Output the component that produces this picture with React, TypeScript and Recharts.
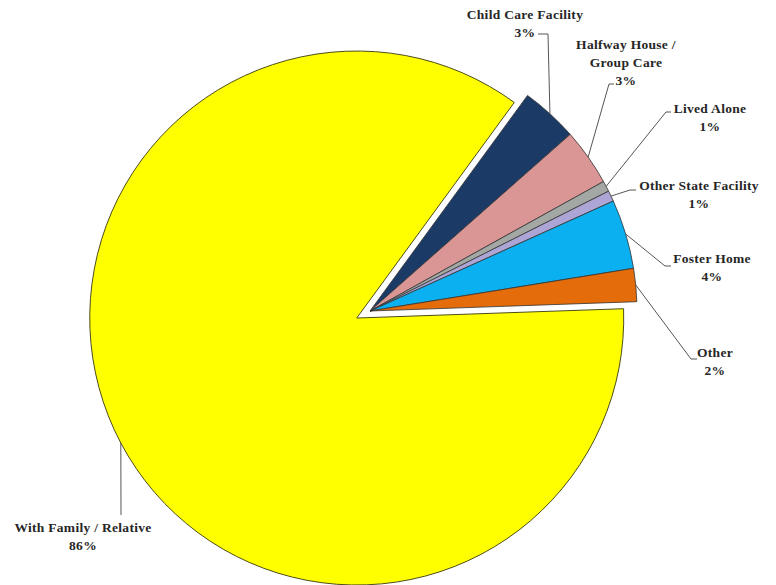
import { Cell, Pie, PieChart } from 'recharts'

const categories = [
  'With Family / Relative',
  'Child Care Facility',
  'Halfway House / Group Care',
  'Lived Alone',
  'Other State Facility',
  'Foster Home',
  'Other'
]
const shares = [85.6, 3.45, 3.45, 0.65, 0.65, 4.2, 2.0]
const labelText = [
  ['With Family / Relative'],
  ['Child Care Facility'],
  ['Halfway House /', 'Group Care'],
  ['Lived Alone'],
  ['Other State  Facility'],
  ['Foster Home'],
  ['Other']
]

const colors = ['#FFFF00', '#1B3A66', '#DA9694', '#A3A8A4', '#ADA5D6', '#0AB0F0', '#E46C0A']

const data = categories.map((name, i) => ({ name, value: shares[i] }))

// hand placed labels, like the dragged labels of the original
const labelLayout: Record<string, { x: number; y: number; path: number[][] }> = {
  'With Family / Relative': { x: 83, y: 532, path: [[121, 515]] },
  'Child Care Facility': { x: 525, y: 19, path: [[548, 34], [538, 34]] },
  'Halfway House / Group Care': { x: 626, y: 49, path: [[609, 84], [614, 84]] },
  'Lived Alone': { x: 710, y: 113, path: [[666, 112], [671, 112]] },
  'Other State Facility': { x: 699, y: 190, path: [[630, 190], [636, 190]] },
  'Foster Home': { x: 712, y: 263, path: [[665, 266], [671, 266]] },
  Other: { x: 715, y: 357, path: [[691, 359], [697, 359]] }
}

const RAD = Math.PI / 180
const START = 2
const CX = 370
const CY = 311
const R = 267
const EXPLODE = 15

const familyMid = START - (shares[0] / 100) * 360 / 2
const famCx = CX + EXPLODE * Math.cos(familyMid * RAD)
const famCy = CY - EXPLODE * Math.sin(familyMid * RAD)

const SERIF = "'Liberation Serif', 'Times New Roman', serif"

const renderLabel = (own: (i: number) => boolean) => (props: any) => {
  const { cx, cy, midAngle, outerRadius, index } = props
  if (!own(index)) return null
  const name = categories[index]
  const lay = labelLayout[name]
  const ax = cx + outerRadius * Math.cos(-midAngle * RAD)
  const ay = cy + outerRadius * Math.sin(-midAngle * RAD)
  const pts = [[ax, ay], ...lay.path].map((p) => p.join(',')).join(' ')
  const lines = [...labelText[index], `${Math.round(shares[index])}%`]
  return (
    <g key={`lbl-${index}`}>
      <polyline points={pts} fill="none" stroke="#555" strokeWidth={1} />
      <text
        x={lay.x}
        y={lay.y}
        textAnchor="middle"
        fontWeight={700}
        fontSize={13.5}
        letterSpacing={0.3}
        fill="#262626"
        style={{ fontFamily: SERIF }}>
        {lines.map((l, k) => (
          <tspan key={k} x={lay.x} dy={k === 0 ? 0 : 18}>
            {l}
          </tspan>
        ))}
      </text>
    </g>
  )
}

export default function App() {
  return (
    <div style={{ position: 'absolute', left: 0, top: 0, background: '#fff' }}>
      <PieChart width={776} height={585} margin={{ top: 0, right: 0, bottom: 0, left: 0 }}>
        <Pie
          data={data}
          dataKey="value"
          nameKey="name"
          cx={famCx}
          cy={famCy}
          outerRadius={R}
          startAngle={START}
          endAngle={START - 360}
          stroke="none"
          labelLine={false}
          label={renderLabel((i) => i === 0)}
          isAnimationActive={false}>
          {data.map((d, i) => (
            <Cell
              key={d.name}
              fill={i === 0 ? colors[i] : 'none'}
              stroke={i === 0 ? '#4d4d1a' : 'none'}
              strokeWidth={1}
            />
          ))}
        </Pie>
        <Pie
          data={data}
          dataKey="value"
          nameKey="name"
          cx={CX}
          cy={CY}
          outerRadius={R}
          startAngle={START}
          endAngle={START - 360}
          labelLine={false}
          label={renderLabel((i) => i !== 0)}
          isAnimationActive={false}>
          {data.map((d, i) => (
            <Cell
              key={d.name}
              fill={i === 0 ? 'none' : colors[i]}
              stroke={i === 0 ? 'none' : '#333'}
              strokeWidth={0.8}
            />
          ))}
        </Pie>
      </PieChart>
    </div>
  )
}
